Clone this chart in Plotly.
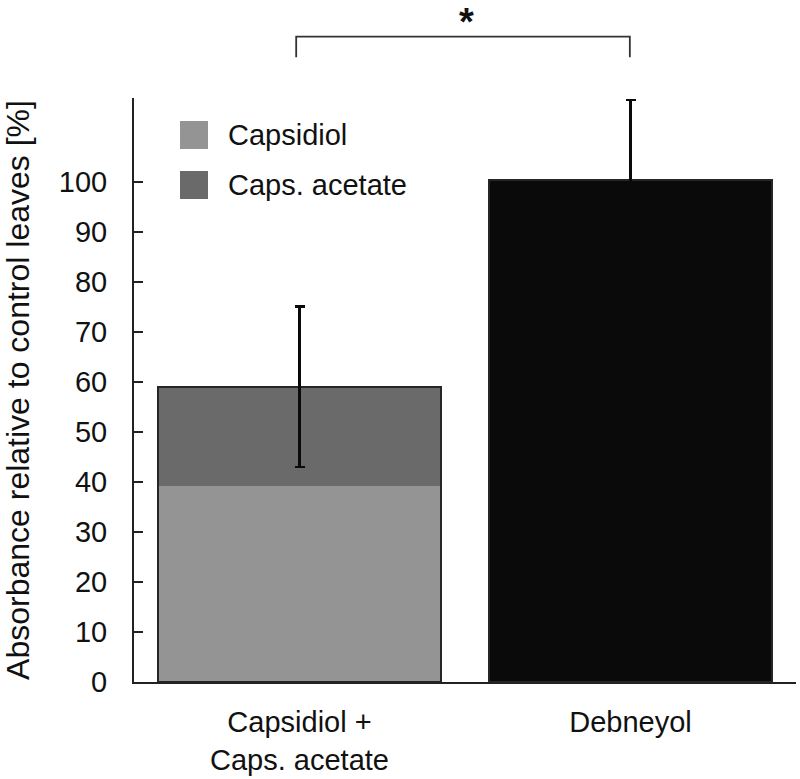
import plotly.graph_objects as go

categories = ["Capsidiol +<br>Caps. acetate", "Debneyol"]
capsidiol = [39.2, None]
caps_acetate = [19.8, None]
debneyol = [None, 100.3]
totals = [59.0, 100.3]
errors = [16.0, 16.0]
y_ticks = [0, 10, 20, 30, 40, 50, 60, 70, 80, 90, 100]

FONT = "Liberation Sans, Arial, sans-serif"

fig = go.Figure()
fig.add_trace(go.Bar(x=categories, y=capsidiol, name="Capsidiol",
                     marker=dict(color="#949494", line=dict(width=0))))
fig.add_trace(go.Bar(x=categories, y=caps_acetate, name="Caps. acetate",
                     marker=dict(color="#6a6a6a", line=dict(width=0))))
fig.add_trace(go.Bar(x=categories, y=debneyol, name="Debneyol",
                     marker=dict(color="#0a0a0a", line=dict(width=0))))
# outline + error bars over the totals (drawn in overlay mode because base is set)
fig.add_trace(go.Bar(x=categories, y=totals, base=[0, 0], name="total",
                     marker=dict(color="rgba(0,0,0,0)", line=dict(color="#262626", width=1.5)),
                     error_y=dict(type="data", array=errors, visible=True,
                                  color="#0a0a0a", thickness=2.6, width=5),
                     hoverinfo="skip"))

fig.update_layout(
    width=800, height=779,
    barmode="stack", bargap=0.145,
    showlegend=False,
    plot_bgcolor="white", paper_bgcolor="white",
    margin=dict(l=134, r=4, t=98, b=97, autoexpand=False),
    font=dict(family=FONT, color="#111111", size=29),
)
fig.update_xaxes(showline=True, linecolor="#222222", linewidth=2, ticks="",
                 showgrid=False, range=[-0.5, 1.5], automargin=False,
                 tickfont=dict(size=29, family=FONT, color="#111111"),
                 ticklabelstandoff=13)
fig.update_yaxes(showline=True, linecolor="#222222", linewidth=2, ticks="inside",
                 ticklen=9, tickwidth=2, tickcolor="#222222",
                 tickvals=y_ticks, showgrid=False, zeroline=False,
                 range=[0, 116.7], automargin=False,
                 tickfont=dict(size=29, family=FONT, color="#111111"),
                 ticklabelstandoff=19,
                 title=dict(text="Absorbance relative to control leaves [%]",
                            font=dict(size=32, family=FONT, color="#111111"),
                            standoff=20))

# significance bracket
def py(pix):
    return (682 - pix) / 584.0

fig.add_shape(type="path", xref="x", yref="paper",
              path=f"M -0.01,{py(57.3)} L -0.01,{py(36.7)} L 0.998,{py(36.7)} L 0.998,{py(57.3)}",
              line=dict(color="#333333", width=1.8))
fig.add_annotation(x=0.5, xref="x", y=py(0), yref="paper", text="<b>*</b>",
                   showarrow=False, font=dict(size=38, family=FONT, color="#111111"),
                   xanchor="center", yanchor="top", xshift=1, borderpad=0)

# legend
legend_items = [("Capsidiol", "#949494", 135), ("Caps. acetate", "#6a6a6a", 185)]
for label, col, cy in legend_items:
    fig.add_shape(type="rect", xref="paper", yref="paper",
                  x0=(180 - 134) / 662, x1=(208 - 134) / 662,
                  y0=py(cy + 14), y1=py(cy - 14),
                  fillcolor=col, line=dict(width=0))
    fig.add_annotation(x=(226 - 134) / 662, xref="paper", y=py(cy), yref="paper",
                       text=label, showarrow=False, xanchor="left", yanchor="middle",
                       font=dict(size=29, family=FONT, color="#111111"))

fig.write_html("out.html", config={"displayModeBar": False},
               post_script="document.body.style.margin='0';document.body.style.padding='0';")
